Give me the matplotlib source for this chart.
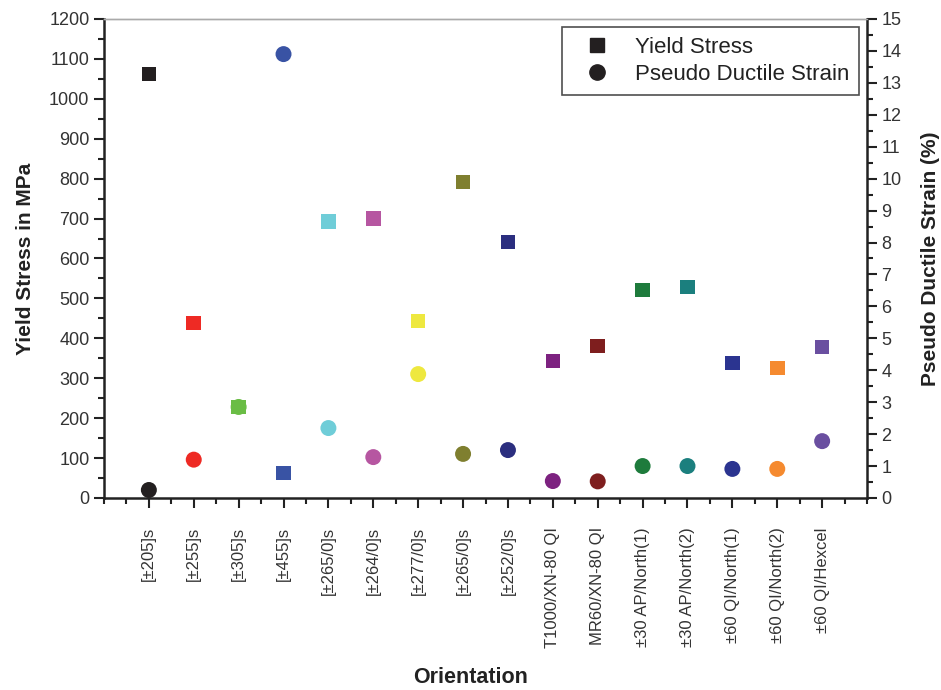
import matplotlib
matplotlib.use("Agg")
import matplotlib.pyplot as plt
from matplotlib.lines import Line2D
from matplotlib.ticker import MultipleLocator

plt.rcParams['font.family'] = ['Liberation Sans', 'DejaVu Sans']

# Laminate orientations / material systems
labels = ["[±205]s", "[±255]s", "[±305]s", "[±455]s", "[±265/0]s", "[±264/0]s",
          "[±277/0]s", "[±265/0]s", "[±252/0]s", "T1000/XN-80 QI", "MR60/XN-80 QI",
          "±30 AP/North(1)", "±30 AP/North(2)", "±60 QI/North(1)", "±60 QI/North(2)",
          "±60 QI/Hexcel"]

# Yield stress (MPa) and pseudo-ductile strain (%)
yield_stress = [1062, 438, 228, 63, 692, 700, 443, 792, 641, 343, 381, 521, 529, 338, 326, 378]
pd_strain = [0.25, 1.2, 2.85, 13.9, 2.19, 1.28, 3.88, 1.38, 1.5, 0.53, 0.52, 1.0, 1.0, 0.91, 0.91, 1.78]

colors = ["#231f20", "#ee2a24", "#6abd45", "#3953a4", "#6fcdd8", "#b656a1",
          "#eee83f", "#7f7f2f", "#2b2e7f", "#7d2280", "#7e1e1e", "#1e7b3c",
          "#1b7f7e", "#2b3490", "#f58a2f", "#6a4fa0"]

x = list(range(1, len(labels) + 1))

fig = plt.figure(figsize=(9.41, 6.90), dpi=100)
ax = fig.add_axes([0.1105, 0.2783, 0.8109, 0.6942])
ax2 = ax.twinx()

ax.scatter(x, yield_stress, marker="s", s=10.5 ** 2, c=colors, linewidths=0, zorder=3)
ax2.scatter(x, pd_strain, marker="o", s=11.5 ** 2, c=colors, linewidths=0, zorder=3)

ax.set_xlim(0, 17)
ax.set_ylim(0, 1200)
ax2.set_ylim(0, 15)

tick_col = "#333333"
ax.set_xticks(x)
ax.set_xticklabels(labels, rotation=90, color=tick_col)
ax.xaxis.set_minor_locator(MultipleLocator(0.5))
ax.yaxis.set_major_locator(MultipleLocator(100))
ax.yaxis.set_minor_locator(MultipleLocator(50))
ax2.yaxis.set_major_locator(MultipleLocator(1))
ax2.yaxis.set_minor_locator(MultipleLocator(0.5))

for a in (ax, ax2):
    a.tick_params(which="major", direction="out", length=7, width=1.5, colors="#222222",
                  labelcolor=tick_col, labelsize=13)
    a.tick_params(which="minor", direction="out", length=4, width=1.5, colors="#222222")
ax.tick_params(axis="x", which="major", labelsize=12, pad=14)

for side in ("left", "bottom"):
    ax.spines[side].set_linewidth(1.8)
    ax.spines[side].set_color("#222222")
ax2.spines["right"].set_linewidth(1.8)
ax2.spines["right"].set_color("#222222")
ax2.spines["left"].set_visible(False)
ax2.spines["bottom"].set_visible(False)
ax.spines["right"].set_visible(False)
for a in (ax, ax2):
    a.spines["top"].set_color("#aaaaaa")
    a.spines["top"].set_linewidth(1.0)

ax.set_ylabel("Yield Stress in MPa", fontsize=15, fontweight="bold", color="#222222", labelpad=10)
ax2.set_ylabel("Pseudo Ductile Strain (%)", fontsize=15, fontweight="bold", color="#222222", labelpad=14)
fig.text(0.5, 0.003, "Orientation", ha="center", va="bottom", fontsize=15.5,
         fontweight="bold", color="#222222")

handles = [Line2D([], [], marker="s", linestyle="none", color="#231f20", markersize=10),
           Line2D([], [], marker="o", linestyle="none", color="#231f20", markersize=11)]
leg = ax2.legend(handles, ["Yield Stress", "Pseudo Ductile Strain"], loc="upper right",
                 bbox_to_anchor=(0.9895, 0.983), borderaxespad=0, fontsize=16, frameon=True,
                 fancybox=False, edgecolor="#222222", handletextpad=0.6, borderpad=0.45,
                 labelspacing=0.25, handlelength=2.2)
leg.get_frame().set_linewidth(1.2)
for t in leg.get_texts():
    t.set_color("#222222")

fig.savefig("out.png", dpi=100)
